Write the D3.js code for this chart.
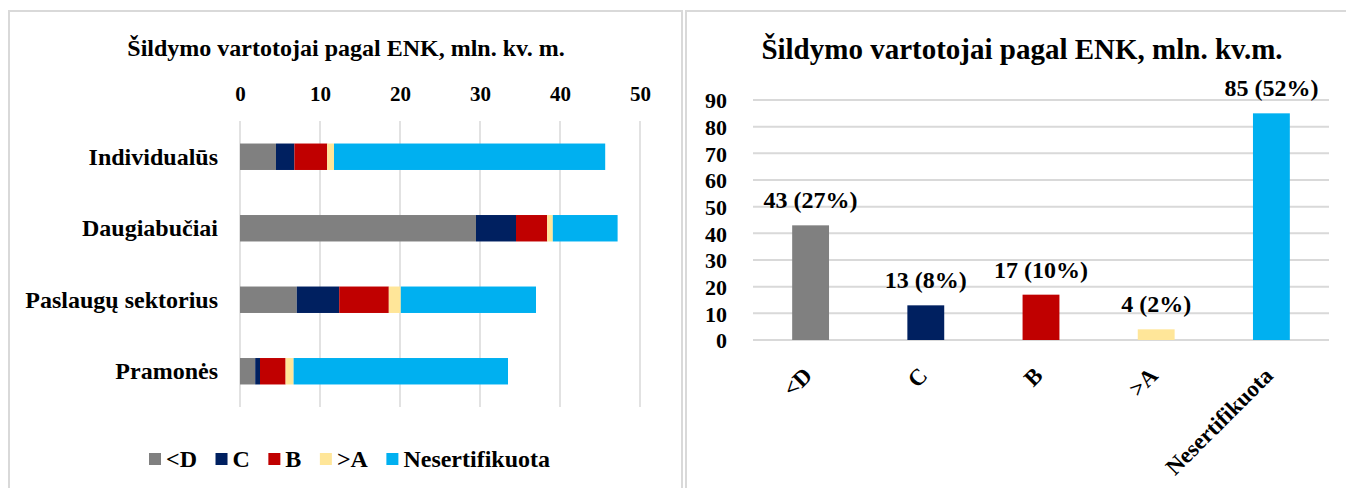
<!DOCTYPE html>
<html><head><meta charset="utf-8">
<script src="https://cdn.jsdelivr.net/npm/d3@7"></script>
<style>
body{margin:0;background:#fff}
svg{display:block}
text{font-family:"Liberation Serif","Times New Roman",serif;font-weight:bold;fill:#000}
</style></head>
<body><svg id="c" width="1346" height="488"></svg>
<script>
// ---- data ----
const categories = ["Individualūs", "Daugiabučiai", "Paslaugų sektorius", "Pramonės"];
const classes = ["<D", "C", "B", ">A", "Nesertifikuota"];
const valD = [4.5, 29.5, 7.1, 1.9];
const valC = [2.3, 5.0, 5.3, 0.6];
const valB = [4.1, 3.9, 6.2, 3.2];
const valA = [0.85, 0.7, 1.5, 1.0];
const valN = [33.9, 8.1, 16.9, 26.8];
const xTicks = [0, 10, 20, 30, 40, 50];
const totals = [43, 13, 17, 4, 85];
const shares = [27, 8, 10, 2, 52];
const yTicks = [0, 10, 20, 30, 40, 50, 60, 70, 80, 90];
const colors = ["#808080", "#002060", "#C00000", "#FFE699", "#00B0F0"];
const leftTitle = "Šildymo vartotojai pagal ENK, mln. kv. m.";
const rightTitle = "Šildymo vartotojai pagal ENK, mln. kv.m.";

const svg = d3.select("#c");
const grid = "#d9d9d9";

// panel borders
svg.append("rect").attr("x", 9).attr("y", 11).attr("width", 673).attr("height", 520)
  .attr("fill", "none").attr("stroke", grid).attr("stroke-width", 2);
svg.append("rect").attr("x", 686).attr("y", 11).attr("width", 700).attr("height", 520)
  .attr("fill", "none").attr("stroke", grid).attr("stroke-width", 2);

// ---------- LEFT: stacked horizontal bar ----------
const series = [valD, valC, valB, valA, valN];
const table = categories.map((c, i) => {
  const o = {cat: c};
  classes.forEach((k, j) => o[k] = series[j][i]);
  return o;
});
const stacked = d3.stack().keys(classes)(table);

const x = d3.scaleLinear().domain([0, 50]).range([240, 640]);
const y = d3.scaleBand().domain(categories).range([121, 407]).paddingInner(0.63).paddingOuter(0.315);

svg.append("text").attr("x", 346).attr("y", 56).attr("text-anchor", "middle")
  .style("font-size", "24px").text(leftTitle);

// gridlines
svg.append("g").selectAll("line").data(xTicks).join("line")
  .attr("x1", d => x(d)).attr("x2", d => x(d)).attr("y1", 121).attr("y2", 407)
  .attr("stroke", grid).attr("stroke-width", 1.5);

// top axis labels
const xa = svg.append("g").attr("transform", "translate(0,101)")
  .call(d3.axisTop(x).tickValues(xTicks).tickSize(0).tickPadding(0));
xa.select(".domain").remove();
xa.selectAll("text").style("font-size", "21px").attr("font-family", null).attr("dy", 0);

// bars
svg.append("g").selectAll("g").data(stacked).join("g")
  .attr("fill", (d, i) => colors[i])
  .selectAll("rect").data(d => d).join("rect")
  .attr("x", d => x(d[0])).attr("width", d => x(d[1]) - x(d[0]))
  .attr("y", d => y(d.data.cat)).attr("height", y.bandwidth());

// category labels
const ya = svg.append("g").attr("transform", "translate(218,0)")
  .call(d3.axisLeft(y).tickSize(0).tickPadding(0));
ya.select(".domain").remove();
ya.selectAll("text").style("font-size", "24px").attr("font-family", null).attr("dy", "0.33em");

// legend
const lg = svg.append("g").attr("transform", "translate(149,459)");
let lx = 0;
classes.forEach((k, i) => {
  lg.append("rect").attr("x", lx).attr("y", -6).attr("width", 12).attr("height", 12).attr("fill", colors[i]);
  const t = lg.append("text").attr("x", lx + 17).attr("y", 8).style("font-size", "24px").text(k);
  lx += 17 + t.node().getComputedTextLength() + 18.5;
});

// ---------- RIGHT: column chart ----------
const x2 = d3.scaleBand().domain(classes).range([753, 1329]).paddingInner(0.68).paddingOuter(0.34);
const y2 = d3.scaleLinear().domain([0, 90]).range([340, 100]);

svg.append("text").attr("x", 1022).attr("y", 59).attr("text-anchor", "middle")
  .style("font-size", "29px").text(rightTitle);

svg.append("g").selectAll("line").data(yTicks).join("line")
  .attr("x1", 753).attr("x2", 1329).attr("y1", d => y2(d)).attr("y2", d => y2(d))
  .attr("stroke", grid).attr("stroke-width", 2);

const ya2 = svg.append("g").attr("transform", "translate(727,0)")
  .call(d3.axisLeft(y2).tickValues(yTicks).tickSize(0).tickPadding(0));
ya2.select(".domain").remove();
ya2.selectAll("text").style("font-size", "22px").attr("font-family", null).attr("dy", "0.35em");

svg.append("g").selectAll("rect").data(classes).join("rect")
  .attr("x", d => x2(d)).attr("width", x2.bandwidth())
  .attr("y", (d, i) => y2(totals[i])).attr("height", (d, i) => y2(0) - y2(totals[i]))
  .attr("fill", (d, i) => colors[i]);

svg.append("g").selectAll("text").data(classes).join("text")
  .attr("x", d => x2(d) + x2.bandwidth() / 2).attr("y", (d, i) => y2(totals[i]) - 17)
  .attr("text-anchor", "middle").style("font-size", "24px")
  .text((d, i) => `${totals[i]} (${shares[i]}%)`);

svg.append("g").selectAll("text").data(classes).join("text")
  .attr("text-anchor", "end").style("font-size", "23px")
  .attr("transform", d => `translate(${x2(d) + x2.bandwidth() / 2 + 3},${377}) rotate(-45)`)
  .text(d => d);
</script>
</body></html>
